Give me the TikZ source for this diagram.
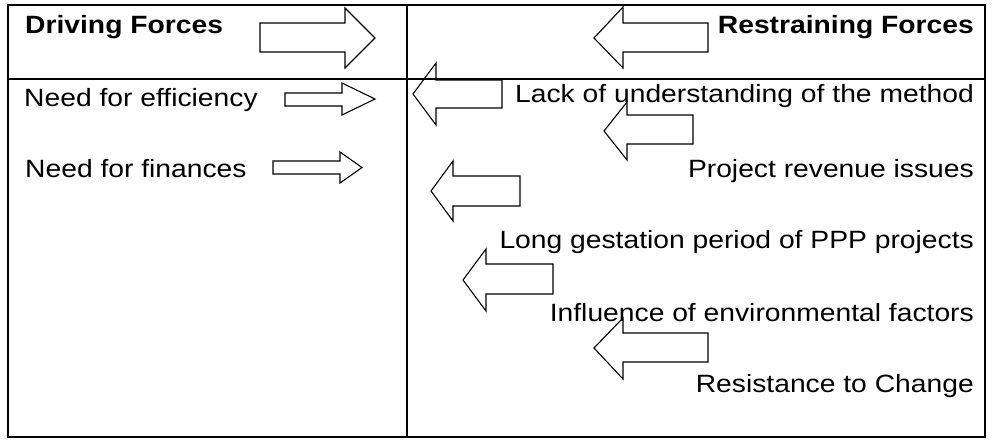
\documentclass[tikz,border=0pt]{standalone}
\usepackage{fontspec}
\usepackage{graphicx}
\setmainfont{Liberation Sans}
\newcommand{\wide}[1]{\scalebox{1.13}[1]{#1}}
% block arrow: tail x, shaft top, shaft bottom, head base x, head top, head bottom, tip x, tip y
\newcommand{\forcearrow}[8]{%
  \draw[forcearrow] (#1,#2) -- (#4,#2) -- (#4,#5) -- (#7,#8) -- (#4,#6) -- (#4,#3) -- (#1,#3) -- cycle;}
\begin{document}
\begin{tikzpicture}[x=1pt,y=-1pt,
  grid/.style={draw=black,line width=2.2pt},
  forcearrow/.style={draw=black,line width=1.1pt,line join=miter},
  lbl/.style={inner sep=0pt,font=\fontsize{25}{30}\selectfont},
  lbll/.style={lbl,anchor=base west},
  lblr/.style={lbl,anchor=base east}]
\useasboundingbox (0,0) rectangle (993,439);
\fill[white] (0,0) rectangle (993,439);

% table frame
\coordinate (tl) at (8,5);
\coordinate (br) at (985,437);
\draw[grid] (tl) rectangle (br);
\draw[grid] (407,5) -- (407,437);
\draw[grid] (8,79) -- (985,79);

% headings
\node[lbll] (drv) at (25,33) {\wide{\bfseries Driving Forces}};
\node[lblr] (rst) at (974,33) {\wide{\bfseries Restraining Forces}};

% driving forces
\node[lbll] (eff) at (24,106) {\wide{Need for efficiency}};
\node[lbll] (fin) at (25,177) {\wide{Need for finances}};

% restraining forces
\node[lblr] (lack) at (974,102) {\wide{Lack of understanding of the method}};
\node[lblr] (rev)  at (974,177) {\wide{Project revenue issues}};
\node[lblr] (gest) at (974,248) {\wide{Long gestation period of PPP projects}};
\node[lblr] (env)  at (974,321) {\wide{Influence of environmental factors}};
\node[lblr] (res)  at (974,392) {\wide{Resistance to Change}};

% arrows pushing right
\forcearrow{260}{23}{52}{345}{8}{68}{375}{38}
\forcearrow{285}{93}{106}{342}{83}{115}{375}{99}
\forcearrow{273}{161}{174}{340}{152}{183}{362}{167.5}

% arrows pushing left
\forcearrow{708}{23}{52}{623}{7}{68}{594}{38}
\forcearrow{502}{80}{108}{436}{63}{125}{413}{94}
\forcearrow{693}{115}{144}{627}{102}{160}{604}{131}
\forcearrow{520}{176}{206}{453}{161}{221}{431}{191}
\forcearrow{553}{264}{294}{486}{249}{311}{463}{280}
\forcearrow{708}{333}{362}{623}{318}{379}{594}{348}
\end{tikzpicture}
\end{document}
